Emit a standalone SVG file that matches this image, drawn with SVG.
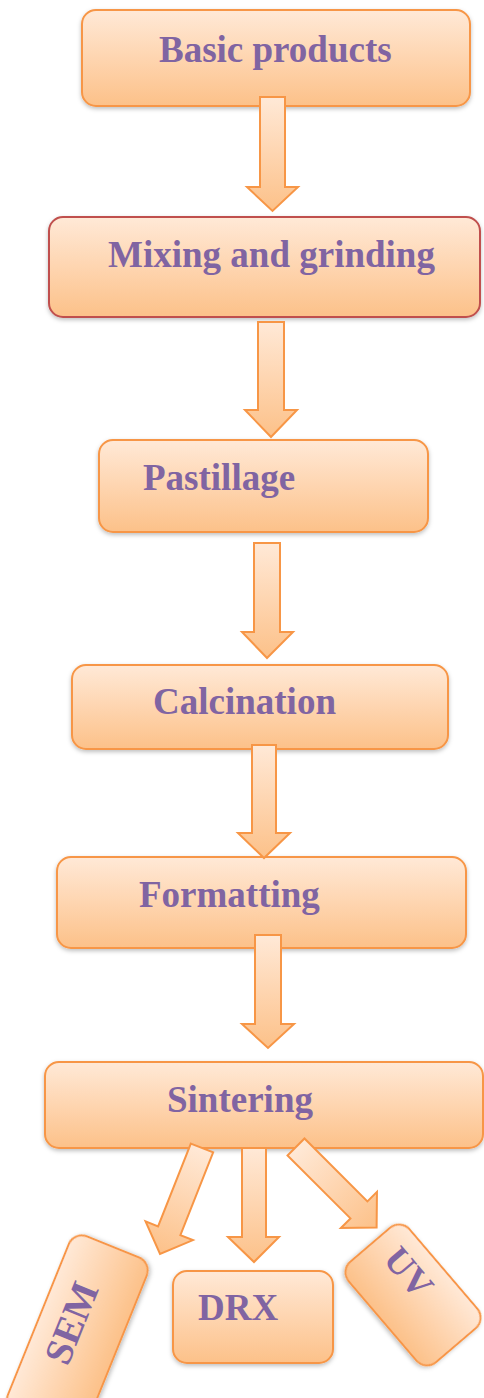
<svg xmlns="http://www.w3.org/2000/svg" width="484" height="1398" viewBox="0 0 484 1398">
<defs>
<linearGradient id="g" x1="0" y1="0" x2="0" y2="1">
<stop offset="0" stop-color="#ffe9d7"/>
<stop offset="0.5" stop-color="#fed5b0"/>
<stop offset="1" stop-color="#fcc189"/>
</linearGradient>
<filter id="sh" x="-10%" y="-10%" width="120%" height="130%">
<feDropShadow dx="0" dy="2" stdDeviation="2" flood-color="#000" flood-opacity="0.25"/>
</filter>
<style>
.box{fill:url(#g);stroke:#f79646;stroke-width:2;filter:url(#sh)}
.red{stroke:#c0504d}
.arr{fill:url(#g);stroke:#f79646;stroke-width:2;stroke-linejoin:miter}
.t{font-family:"Liberation Serif","Times New Roman",serif;font-weight:bold;font-size:37px;fill:#8064a2}
</style>
</defs>
<rect width="484" height="1398" fill="#fff"/>
<g id="n1"><rect class="box" x="82" y="10" width="388" height="96" rx="14"/><text class="t" x="159" y="62">Basic products</text></g>
<g id="n2"><rect class="box red" x="49" y="217" width="431" height="100" rx="14"/><text class="t" x="108" y="267">Mixing and grinding</text></g>
<g id="n3"><rect class="box" x="99" y="440" width="329" height="92" rx="14"/><text class="t" x="143" y="490">Pastillage</text></g>
<g id="n4"><rect class="box" x="72" y="665" width="376" height="84" rx="14"/><text class="t" x="153" y="714">Calcination</text></g>
<g id="n5"><rect class="box" x="57" y="857" width="409" height="91" rx="14"/><text class="t" x="139" y="907">Formatting</text></g>
<g id="n6"><rect class="box" x="45" y="1062" width="438" height="86" rx="14"/><text class="t" x="167" y="1112">Sintering</text></g>
<g id="n7"><rect class="box" x="173" y="1271" width="160" height="92" rx="14"/><text class="t" x="198" y="1320">DRX</text></g>
<g id="n8" transform="translate(77.4,1335) rotate(-68)"><rect class="box" x="-95" y="-42" width="190" height="84" rx="14"/><text class="t" x="9" y="3" text-anchor="middle" style="font-size:39px">SEM</text></g>
<g id="n9" transform="translate(413,1295) rotate(49.5)"><rect class="box" x="-66" y="-40" width="132" height="80" rx="14"/><text class="t" x="-20" y="1" text-anchor="middle">UV</text></g>
<g id="connectors">
<path class="arr" d="M260,97 H285 V187 H298 L272.5,211 L247,187 H260 Z"/>
<path class="arr" d="M258,322 H284 V410 H297 L271,437 L245,410 H258 Z"/>
<path class="arr" d="M254,543 H280 V632 H293 L267,658 L242,632 H254 Z"/>
<path class="arr" d="M252,745 H276 V833 H290 L264,858 L238,833 H252 Z"/>
<path class="arr" d="M255,935 H281 V1024 H294 L268,1048 L242,1024 H255 Z"/>
<path class="arr" d="M242,1148 H266 V1237 H279 L254,1262 L228,1237 H242 Z"/>
<g transform="translate(202,1148) rotate(21.6)"><path class="arr" d="M-12,0 H12 V89 H25.5 L0,114 L-25.5,89 H-12 Z"/></g>
<g transform="translate(296,1147) rotate(-45)"><path class="arr" d="M-12,0 H12 V89 H25.5 L0,114 L-25.5,89 H-12 Z"/></g>
</g>
</svg>
